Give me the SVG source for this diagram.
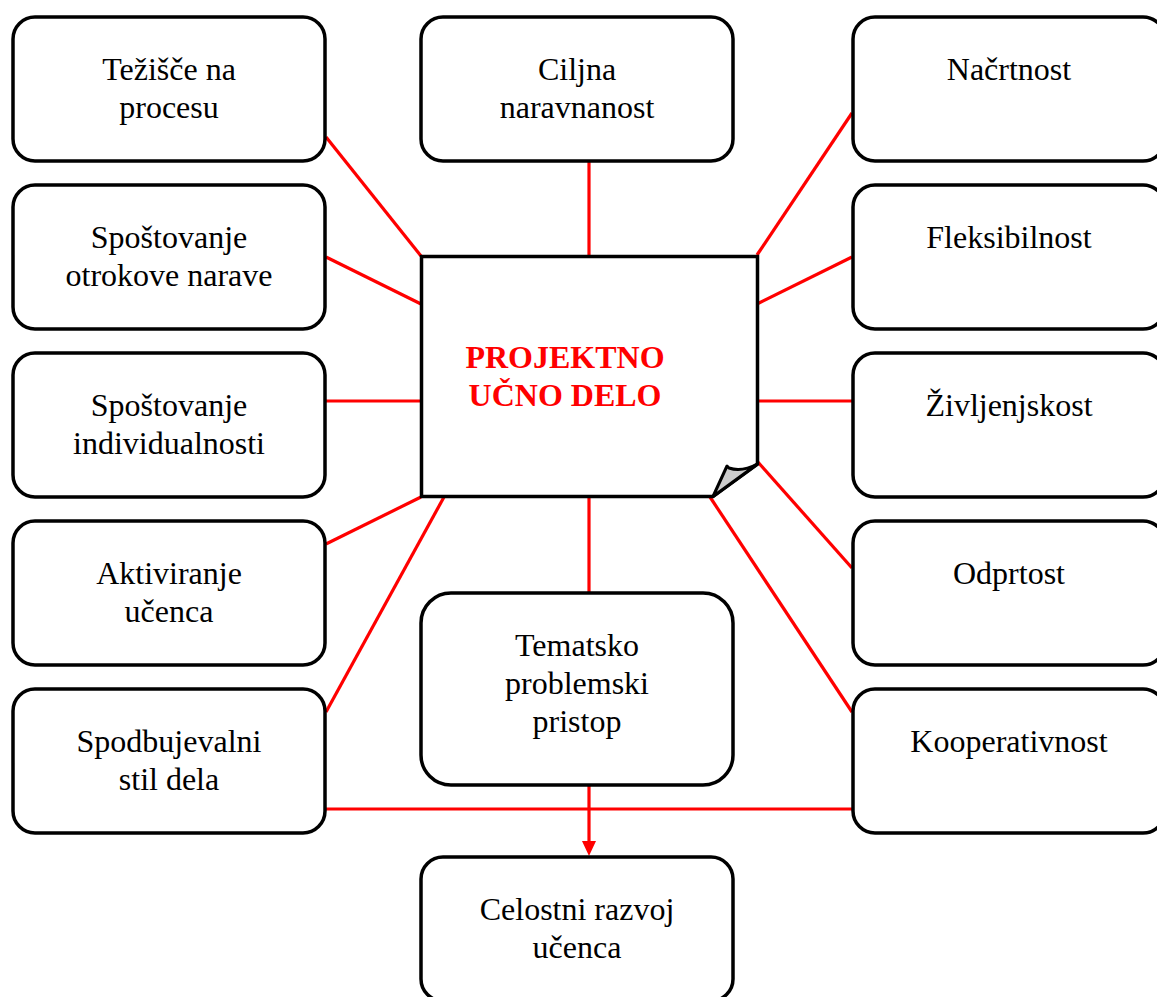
<svg xmlns="http://www.w3.org/2000/svg" width="1157" height="997" viewBox="0 0 1157 997">
<style>
.box{fill:#fff;stroke:#000;stroke-width:3.5}
.t{font-family:"Liberation Serif","Times New Roman",serif;font-size:32px;fill:#000;text-anchor:middle}
.c{font-family:"Liberation Serif","Times New Roman",serif;font-size:32px;font-weight:bold;fill:#ff0000;text-anchor:middle}
.ln{stroke:#ff0000;stroke-width:3.2;fill:none}
</style>
<rect width="1157" height="997" fill="#fff"/>
<g id="connectors">
<line class="ln" x1="326" y1="137" x2="421" y2="256"/>
<line class="ln" x1="326" y1="257" x2="421" y2="304"/>
<line class="ln" x1="326" y1="401" x2="421" y2="401"/>
<line class="ln" x1="326" y1="544" x2="421" y2="497"/>
<line class="ln" x1="326" y1="712" x2="444" y2="497"/>
<line class="ln" x1="589" y1="161" x2="589" y2="256"/>
<line class="ln" x1="589" y1="497" x2="589" y2="592"/>
<line class="ln" x1="757" y1="255" x2="852" y2="113"/>
<line class="ln" x1="757" y1="304" x2="852" y2="257"/>
<line class="ln" x1="757" y1="401" x2="852" y2="401"/>
<line class="ln" x1="757" y1="461" x2="852" y2="568"/>
<line class="ln" x1="710" y1="497" x2="852" y2="712"/>
<line class="ln" x1="326" y1="809" x2="852" y2="809"/>
<line class="ln" x1="589" y1="786" x2="589" y2="843"/>
<path d="M582,841 L596,841 L589,856 Z" fill="#ff0000"/>
</g>
<g id="n-tezisce"><rect class="box" x="13" y="17" width="312" height="144" rx="22"/><text class="t" x="169" y="80">Težišče na</text><text class="t" x="169" y="118">procesu</text></g>
<g id="n-spostovanje-otrok"><rect class="box" x="13" y="185" width="312" height="144" rx="22"/><text class="t" x="169" y="248">Spoštovanje</text><text class="t" x="169" y="286">otrokove narave</text></g>
<g id="n-spostovanje-ind"><rect class="box" x="13" y="353" width="312" height="144" rx="22"/><text class="t" x="169" y="416">Spoštovanje</text><text class="t" x="169" y="454">individualnosti</text></g>
<g id="n-aktiviranje"><rect class="box" x="13" y="521" width="312" height="144" rx="22"/><text class="t" x="169" y="584">Aktiviranje</text><text class="t" x="169" y="622">učenca</text></g>
<g id="n-spodbujevalni"><rect class="box" x="13" y="689" width="312" height="144" rx="22"/><text class="t" x="169" y="752">Spodbujevalni</text><text class="t" x="169" y="790">stil dela</text></g>
<g id="n-ciljna"><rect class="box" x="421" y="17" width="312" height="144" rx="22"/><text class="t" x="577" y="80">Ciljna</text><text class="t" x="577" y="118">naravnanost</text></g>
<g id="n-nacrtnost"><rect class="box" x="853" y="17" width="312" height="144" rx="22"/><text class="t" x="1009" y="80">Načrtnost</text></g>
<g id="n-fleksibilnost"><rect class="box" x="853" y="185" width="312" height="144" rx="22"/><text class="t" x="1009" y="248">Fleksibilnost</text></g>
<g id="n-zivljenjskost"><rect class="box" x="853" y="353" width="312" height="144" rx="22"/><text class="t" x="1009" y="416">Življenjskost</text></g>
<g id="n-odprtost"><rect class="box" x="853" y="521" width="312" height="144" rx="22"/><text class="t" x="1009" y="584">Odprtost</text></g>
<g id="n-kooperativnost"><rect class="box" x="853" y="689" width="312" height="144" rx="22"/><text class="t" x="1009" y="752">Kooperativnost</text></g>
<g id="n-center">
<path d="M421.5,256.5 H757.5 V464 L713,496.5 H421.5 Z" fill="#fff" stroke="#000" stroke-width="3.5" stroke-linejoin="miter"/>
<path d="M757.5,464 C748,469 738,471 729,468 L727,466 L713,496.5 Z" fill="#cccccc" stroke="#000" stroke-width="3" stroke-linejoin="round"/>
<text class="c" x="565" y="368">PROJEKTNO</text><text class="c" x="565" y="406">UČNO DELO</text>
</g>
<g id="n-tematsko"><rect class="box" x="421" y="593" width="312" height="192" rx="30"/><text class="t" x="577" y="656">Tematsko</text><text class="t" x="577" y="694">problemski</text><text class="t" x="577" y="732">pristop</text></g>
<g id="n-celostni"><rect class="box" x="421" y="857" width="312" height="144" rx="22"/><text class="t" x="577" y="920">Celostni razvoj</text><text class="t" x="577" y="958">učenca</text></g>
</svg>
